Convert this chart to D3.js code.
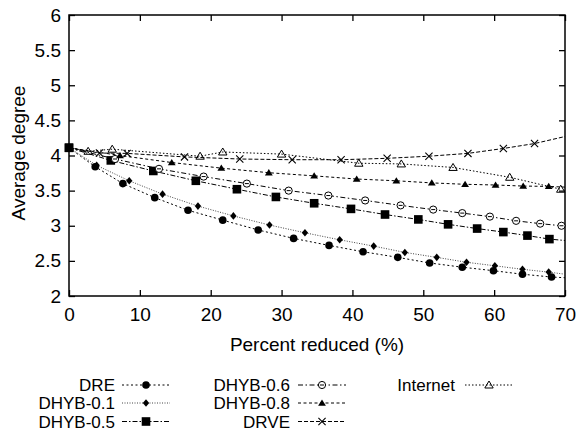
<!DOCTYPE html>
<html>
<head>
<meta charset="utf-8">
<script src="https://cdn.jsdelivr.net/npm/d3@7"></script>
<style>
  body { margin: 0; background: #fff; }
  svg text { font-family: "Liberation Sans", Arial, Helvetica, sans-serif; fill: #000; }
</style>
</head>
<body>
<svg id="chart" width="579" height="432"></svg>
<script>
// data (x = percent reduced, y = average degree)
const dreX  = [0, 3.7, 7.6, 12.1, 16.8, 21.7, 26.7, 31.7, 36.7, 41.5, 46.4, 50.9, 55.5, 59.9, 64.0, 68.1, 70];
const dreY  = [4.11, 3.84, 3.60, 3.40, 3.22, 3.08, 2.94, 2.82, 2.72, 2.63, 2.55, 2.47, 2.41, 2.36, 2.31, 2.27, 2.26];

const dhyb01X = [0, 3.9, 8.5, 13.2, 18.2, 23.2, 28.3, 33.3, 38.2, 43.0, 47.4, 51.9, 56.1, 60.1, 64.0, 67.7, 70];
const dhyb01Y = [4.11, 3.86, 3.64, 3.45, 3.28, 3.14, 3.01, 2.90, 2.80, 2.71, 2.62, 2.55, 2.48, 2.43, 2.38, 2.34, 2.31];

const dhyb05X = [0, 5.9, 11.9, 17.9, 23.7, 29.2, 34.6, 39.8, 44.6, 49.3, 53.5, 57.6, 61.3, 64.7, 67.8, 70];
const dhyb05Y = [4.11, 3.93, 3.78, 3.64, 3.52, 3.41, 3.32, 3.24, 3.16, 3.09, 3.02, 2.96, 2.91, 2.86, 2.81, 2.79];

const dhyb06X = [0, 6.5, 12.7, 19.0, 25.1, 31.0, 36.6, 41.8, 46.8, 51.4, 55.5, 59.4, 63.1, 66.5, 69.5];
const dhyb06Y = [4.11, 3.95, 3.81, 3.70, 3.60, 3.50, 3.43, 3.36, 3.29, 3.23, 3.18, 3.13, 3.07, 3.03, 3.00];

const dhyb08X = [0, 7.2, 14.5, 21.5, 28.2, 34.6, 40.6, 46.2, 51.2, 55.9, 60.2, 64.1, 67.7, 70];
const dhyb08Y = [4.11, 4.00, 3.90, 3.82, 3.755, 3.71, 3.665, 3.64, 3.61, 3.59, 3.58, 3.565, 3.56, 3.55];

const drveX = [0, 4.3, 8.2, 16.3, 24.1, 31.5, 38.4, 44.9, 50.8, 56.3, 61.3, 65.7, 70];
const drveY = [4.11, 4.035, 4.03, 3.98, 3.95, 3.94, 3.94, 3.96, 3.99, 4.03, 4.10, 4.17, 4.27];

const internetX = [0, 2.7, 6.1, 18.5, 21.7, 30.0, 40.9, 46.9, 54.2, 62.2, 69.4];
const internetY = [4.11, 4.06, 4.09, 3.99, 4.05, 4.02, 3.89, 3.88, 3.83, 3.69, 3.52];

const xTicks = [0, 10, 20, 30, 40, 50, 60, 70];
const yTicks = [2, 2.5, 3, 3.5, 4, 4.5, 5, 5.5, 6];

const series = [
  { name: 'DRE',       x: dreX,      y: dreY,      marker: 'dot',      dash: '2,2.5', col: 0, row: 0, endMark: false },
  { name: 'DHYB-0.1',  x: dhyb01X,   y: dhyb01Y,   marker: 'diamond',  dash: '1,1.5', col: 0, row: 1, endMark: false, stroke: '#444' },
  { name: 'DHYB-0.5',  x: dhyb05X,   y: dhyb05Y,   marker: 'square',   dash: '5,2,1.5,2', col: 0, row: 2, endMark: false },
  { name: 'DHYB-0.6',  x: dhyb06X,   y: dhyb06Y,   marker: 'circle',   dash: '5,2.5,1.5,2.5', col: 1, row: 0, endMark: true },
  { name: 'DHYB-0.8',  x: dhyb08X,   y: dhyb08Y,   marker: 'triangle', dash: '3,2.5', col: 1, row: 1, endMark: false },
  { name: 'DRVE',      x: drveX,     y: drveY,     marker: 'cross',    dash: '4,2', col: 1, row: 2, endMark: false },
  { name: 'Internet',  x: internetX, y: internetY, marker: 'otriangle',dash: '1.5,2', col: 2, row: 0, endMark: true }
];

const margin = { top: 15, right: 14, bottom: 136, left: 69 };
const W = 579, H = 432;
const width = W - margin.left - margin.right;
const height = H - margin.top - margin.bottom;

const svg = d3.select('#chart');
const chart = svg.append('g').attr('transform', `translate(${margin.left},${margin.top})`);

const xScale = d3.scaleLinear().domain([0, 70]).range([0, width]);
const yScale = d3.scaleLinear().domain([2, 6]).range([height, 0]);

// axes with inward ticks, mirrored on the top/right
const tickLen = 6;
chart.append('g')
  .attr('transform', `translate(0,${height})`)
  .call(d3.axisBottom(xScale).tickValues(xTicks).tickSizeInner(-tickLen).tickSizeOuter(0).tickPadding(12))
  .call(g => g.select('.domain').remove())
  .call(g => g.selectAll('.tick text').style('font-size', '19px'))
  .call(g => g.selectAll('.tick line').attr('stroke-width', 1.3));

chart.append('g')
  .call(d3.axisTop(xScale).tickValues(xTicks).tickSizeInner(-tickLen).tickSizeOuter(0).tickFormat(''))
  .call(g => g.select('.domain').remove())
  .call(g => g.selectAll('.tick line').attr('stroke-width', 1.3));

chart.append('g')
  .call(d3.axisLeft(yScale).tickValues(yTicks).tickSizeInner(-tickLen).tickSizeOuter(0).tickPadding(8).tickFormat(d => d))
  .call(g => g.select('.domain').remove())
  .call(g => g.selectAll('.tick text').style('font-size', '19px'))
  .call(g => g.selectAll('.tick line').attr('stroke-width', 1.3));

chart.append('g')
  .attr('transform', `translate(${width},0)`)
  .call(d3.axisRight(yScale).tickValues(yTicks).tickSizeInner(-tickLen).tickSizeOuter(0).tickFormat(''))
  .call(g => g.select('.domain').remove())
  .call(g => g.selectAll('.tick line').attr('stroke-width', 1.3));

// frame
chart.append('rect')
  .attr('width', width).attr('height', height)
  .attr('fill', 'none').attr('stroke', '#000').attr('stroke-width', 1.5);

// axis titles
svg.append('text')
  .attr('x', margin.left + width / 2).attr('y', 351)
  .style('text-anchor', 'middle').style('font-size', '19px')
  .text('Percent reduced (%)');

svg.append('text')
  .attr('transform', `translate(25,153) rotate(-90)`)
  .style('text-anchor', 'middle').style('font-size', '19px')
  .text('Average degree');

// marker drawing
function drawMarker(g, type, cx, cy) {
  switch (type) {
    case 'dot':
      g.append('circle').attr('cx', cx).attr('cy', cy).attr('r', 3.8).attr('fill', '#000');
      break;
    case 'diamond':
      g.append('path').attr('d', `M${cx},${cy - 3.8}L${cx + 3.2},${cy}L${cx},${cy + 3.8}L${cx - 3.2},${cy}Z`).attr('fill', '#000');
      break;
    case 'square':
      g.append('rect').attr('x', cx - 4.3).attr('y', cy - 4.3).attr('width', 8.6).attr('height', 8.6).attr('fill', '#000');
      break;
    case 'circle':
      g.append('circle').attr('cx', cx).attr('cy', cy).attr('r', 3.6).attr('fill', '#fff').attr('stroke', '#000').attr('stroke-width', 1);
      g.append('line').attr('x1', cx - 2).attr('x2', cx + 2).attr('y1', cy).attr('y2', cy).attr('stroke', '#000').attr('stroke-width', 1);
      break;
    case 'triangle':
      g.append('path').attr('d', `M${cx},${cy - 3.6}L${cx + 3.9},${cy + 2.7}L${cx - 3.9},${cy + 2.7}Z`).attr('fill', '#000');
      break;
    case 'otriangle':
      g.append('path').attr('d', `M${cx},${cy - 4}L${cx + 4.2},${cy + 3}L${cx - 4.2},${cy + 3}Z`)
        .attr('fill', 'none').attr('stroke', '#000').attr('stroke-width', 1);
      break;
    case 'cross':
      g.append('path').attr('d', `M${cx - 3.6},${cy - 3.6}L${cx + 3.6},${cy + 3.6}M${cx - 3.6},${cy + 3.6}L${cx + 3.6},${cy - 3.6}`)
        .attr('stroke', '#000').attr('stroke-width', 1.1);
      break;
  }
}

const line = d3.line().x(d => xScale(d[0])).y(d => yScale(d[1]));

series.forEach(s => {
  const pts = s.x.map((v, i) => [v, s.y[i]]);
  chart.append('path')
    .datum(pts)
    .attr('d', line)
    .attr('fill', 'none')
    .attr('stroke', s.stroke || '#000')
    .attr('stroke-width', 1)
    .attr('stroke-dasharray', s.dash);
});

// markers, drawn after all lines
series.forEach(s => {
  const g = chart.append('g');
  s.x.forEach((v, i) => {
    if (i === 0 && s.name !== 'DHYB-0.5') return;
    if (i === s.x.length - 1 && !s.endMark) return;
    drawMarker(g, s.marker, xScale(v), yScale(s.y[i]));
  });
});
// common starting point
drawMarker(chart.append('g'), 'square', xScale(dhyb05X[0]), yScale(dhyb05Y[0]));

// legend
const legendCols = [
  { textRight: 115, lineStart: 122 },
  { textRight: 290, lineStart: 298 },
  { textRight: 455, lineStart: 465 }
];
const legendRows = [385, 403, 421.5];
const legend = svg.append('g');

series.forEach(s => {
  const c = legendCols[s.col];
  const y = legendRows[s.row];
  legend.append('text')
    .attr('x', c.textRight).attr('y', y + 6)
    .style('text-anchor', 'end').style('font-size', '17px')
    .text(s.name);
  legend.append('line')
    .attr('x1', c.lineStart).attr('x2', c.lineStart + 48)
    .attr('y1', y).attr('y2', y)
    .attr('stroke', s.stroke || '#000').attr('stroke-width', 1)
    .attr('stroke-dasharray', s.dash);
  drawMarker(legend, s.marker, c.lineStart + 24, y);
});
</script>
</body>
</html>
